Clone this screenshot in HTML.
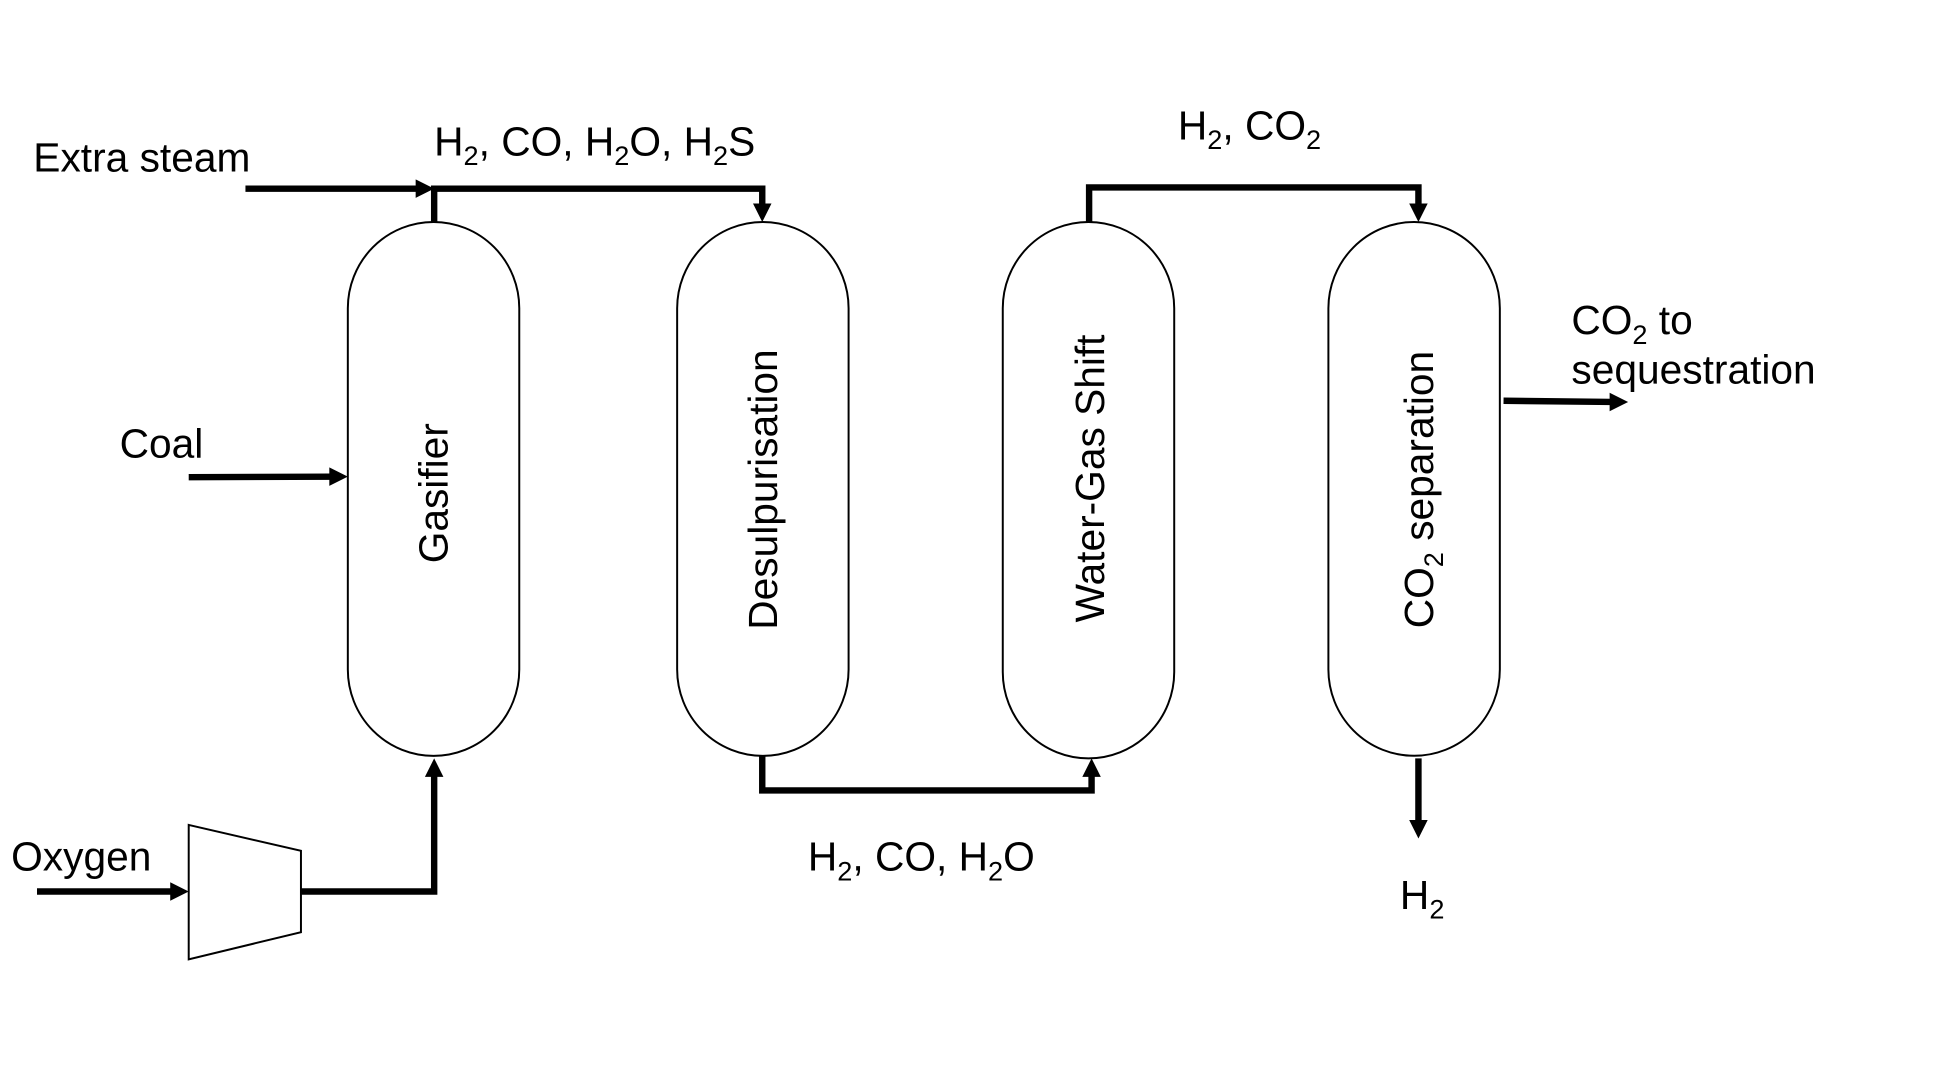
<!DOCTYPE html>
<html>
<head>
<meta charset="utf-8">
<style>
html,body{margin:0;padding:0;background:#fff;}
svg{display:block;}
text{font-family:"Liberation Sans",Arial,sans-serif;fill:#000;}
</style>
</head>
<body>
<svg width="1934" height="1074" viewBox="0 0 1568 871" preserveAspectRatio="none" xmlns="http://www.w3.org/2000/svg">
<rect width="1568" height="871" fill="#fff"/>

<!-- Vessels -->
<g fill="#fff" stroke="#000" stroke-width="1.6">
<path d="M282,250 A69.5,70 0 0 1 421,250 L421,543 A69.5,70 0 0 1 282,543 Z"/>
<path d="M549,250 A69.5,70 0 0 1 688,250 L688,543 A69.5,70 0 0 1 549,543 Z"/>
<path d="M813,250 A69.5,70 0 0 1 952,250 L952,545 A69.5,70 0 0 1 813,545 Z"/>
<path d="M1077,250 A69.5,70 0 0 1 1216,250 L1216,543 A69.5,70 0 0 1 1077,543 Z"/>
<polygon points="153,669 244,690 244,756 153,778"/>
</g>

<!-- Connectors -->
<g fill="none" stroke="#000" stroke-width="5.2" stroke-linejoin="miter" stroke-linecap="butt">
<line x1="199" y1="153" x2="338" y2="153"/>
<polyline points="352,180 352,153 618,153 618,166"/>
<line x1="153" y1="387" x2="268" y2="386.6"/>
<line x1="30" y1="723" x2="139" y2="723"/>
<polyline points="244,723 352,723 352,629"/>
<polyline points="618,613 618,641 885,641 885,629"/>
<polyline points="883,180 883,152 1150,152 1150,166"/>
<line x1="1150" y1="615" x2="1150" y2="666"/>
<line x1="1219" y1="325" x2="1306" y2="326"/>
</g>

<!-- Arrowheads -->
<g fill="#000" stroke="none">
<polygon points="352,153 337,145.5 337,160.5"/>
<polygon points="618,180 610.5,165 625.5,165"/>
<polygon points="282,386.5 267,379 267,394"/>
<polygon points="153,723 138,715.5 138,730.5"/>
<polygon points="352,615 344.5,630 359.5,630"/>
<polygon points="885,615 877.5,630 892.5,630"/>
<polygon points="1150,180 1142.5,165 1157.5,165"/>
<polygon points="1150,680 1142.5,665 1157.5,665"/>
<polygon points="1320,326 1305,318.5 1305,333.5"/>
</g>

<!-- Labels -->
<g font-size="33">
<text x="27" y="139">Extra steam</text>
<text x="352" y="126">H<tspan font-size="22" dy="8">2</tspan><tspan dy="-8">, CO, H</tspan><tspan font-size="22" dy="8">2</tspan><tspan dy="-8">O, H</tspan><tspan font-size="22" dy="8">2</tspan><tspan dy="-8">S</tspan></text>
<text x="955" y="113">H<tspan font-size="22" dy="8">2</tspan><tspan dy="-8">, CO</tspan><tspan font-size="22" dy="8">2</tspan></text>
<text x="1274" y="271">CO<tspan font-size="22" dy="8">2</tspan><tspan dy="-8"> to</tspan></text>
<text x="1274" y="311">sequestration</text>
<text x="97" y="371">Coal</text>
<text x="9" y="706">Oxygen</text>
<text x="655" y="706">H<tspan font-size="22" dy="8">2</tspan><tspan dy="-8">, CO, H</tspan><tspan font-size="22" dy="8">2</tspan><tspan dy="-8">O</tspan></text>
<text x="1135" y="737">H<tspan font-size="22" dy="8">2</tspan></text>

<text transform="translate(363,400) rotate(-90)" text-anchor="middle">Gasifier</text>
<text transform="translate(630,397) rotate(-90)" text-anchor="middle">Desulpurisation</text>
<text transform="translate(895,388) rotate(-90)" text-anchor="middle">Water-Gas Shift</text>
<text transform="translate(1162,397) rotate(-90)" text-anchor="middle">CO<tspan font-size="22" dy="8">2</tspan><tspan dy="-8"> separation</tspan></text>
</g>
</svg>
</body>
</html>
